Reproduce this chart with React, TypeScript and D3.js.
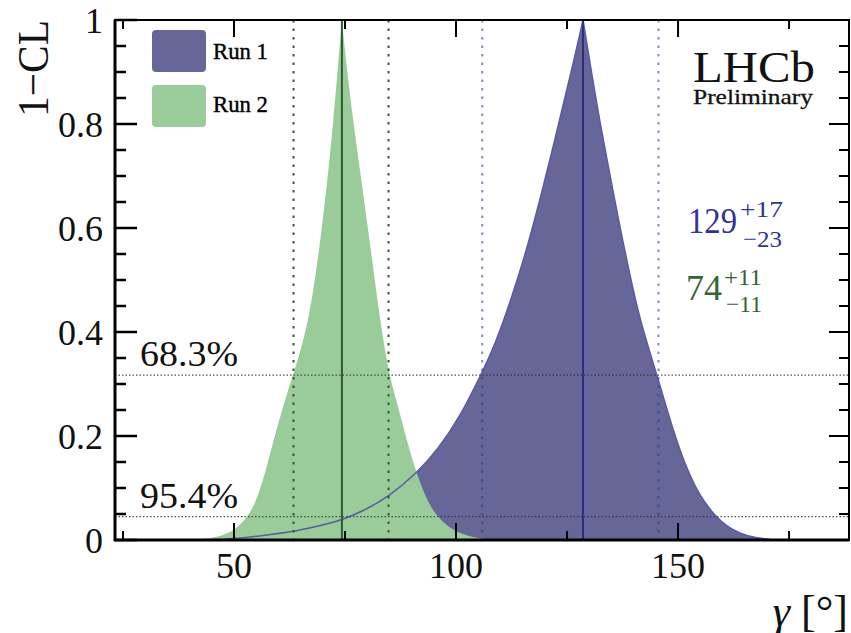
import React from 'react';
import * as d3 from 'd3';

// gamma [deg], 1-CL
const run1Points: [number, number][] = [
  [44, 0], [49.8, 0.002], [56, 0.008], [63.4, 0.016], [68, 0.025], [73.9, 0.037], [79, 0.055],
  [84.8, 0.083], [91.1, 0.128], [96, 0.175], [100.9, 0.237], [105.6, 0.317], [109, 0.38],
  [112.5, 0.465], [116, 0.56], [119.5, 0.675], [122, 0.76], [124.2, 0.84], [126.5, 0.92],
  [128.6, 1.0],
  [130.5, 0.9], [132.3, 0.808], [134.5, 0.71], [136.6, 0.615], [139, 0.515], [141.4, 0.423],
  [145.2, 0.319], [149.3, 0.199], [151.5, 0.148], [153.8, 0.103], [156, 0.072], [158.3, 0.047],
  [161, 0.026], [164, 0.012], [167.3, 0.004], [172, 0],
];
const run2Points: [number, number][] = [
  [37, 0], [41, 0.001], [44.6, 0.003], [47.5, 0.009], [50.2, 0.019], [53.2, 0.045], [55.1, 0.077],
  [57.0, 0.128], [58.9, 0.192], [61.0, 0.256], [63.3, 0.317], [65.2, 0.37], [66.9, 0.43],
  [68.4, 0.51], [69.8, 0.6], [71.0, 0.69], [72.2, 0.79], [73.3, 0.9], [74.3, 1.0],
  [75.5, 0.9], [76.8, 0.808], [78.4, 0.71], [79.9, 0.615], [81.4, 0.52], [82.9, 0.423],
  [84.9, 0.317], [87.0, 0.256], [88.9, 0.192], [91.1, 0.128], [93.4, 0.077], [95.7, 0.045],
  [99.0, 0.019], [103.9, 0.003], [110, 0],
];

const run1Best = 128.6;
const run1Interval = [105.9, 145.6];
const run2Best = 74.3;
const run2Interval = [63.4, 84.8];

const clLevels = [0.317, 0.045];
const clLabels = ['68.3%', '95.4%'];

const xMajorTicks = [50, 100, 150];
const xMinorTicks = [25, 75, 125, 175];
const yMajorTicks = [0, 0.2, 0.4, 0.6, 0.8, 1];
const yTickLabels = ['0', '0.2', '0.4', '0.6', '0.8', '1'];
const yMinorTicks = [0.05, 0.1, 0.15, 0.25, 0.3, 0.35, 0.45, 0.5, 0.55, 0.65, 0.7, 0.75, 0.85, 0.9, 0.95];

const legendNames = ['Run 1', 'Run 2'];

const W = 851, H = 633;
const L = 115, R = 849, T = 20, B = 540;

const BLUE = '#666699';
const GREEN = '#99cc99';
const FONT = '"Liberation Serif", "Times New Roman", serif';

export default function App() {
  const x = d3.scaleLinear().domain([23.2, 188.5]).range([L, R]);
  const y = d3.scaleLinear().domain([0, 1]).range([B, T]);

  const split = (data: [number, number][]) => {
    const i = d3.maxIndex(data, d => d[1]);
    return [data.slice(0, i + 1), data.slice(i)];
  };
  const areaPath = (data: [number, number][]) => {
    const p = d3.path();
    const a = d3.area<[number, number]>()
      .x(d => x(d[0])).y0(y(0)).y1(d => y(d[1]))
      .curve(d3.curveBasis).context(p as any);
    split(data).forEach(s => a(s));
    return p.toString();
  };
  const linePath = (data: [number, number][]) => {
    const p = d3.path();
    const l = d3.line<[number, number]>()
      .x(d => x(d[0])).y(d => y(d[1]))
      .curve(d3.curveBasis).context(p as any);
    split(data).forEach(s => l(s));
    return p.toString();
  };

  return (
    <svg width={W} height={H} style={{ position: 'absolute', left: 0, top: 0, background: '#fff' }}
      fontFamily={FONT}>
      <rect x={0} y={0} width={W} height={H} fill="#fff" />
      {/* fills */}
      <path d={areaPath(run1Points)} fill={BLUE} />
      <path d={areaPath(run2Points)} fill={GREEN} />
      <path d={linePath(run1Points)} fill="none" stroke="#5a5aa6" strokeWidth={1.5} />

      {/* CL level lines */}
      {clLevels.map((c, i) => (
        <line key={'cl' + i} x1={L} x2={R} y1={y(c)} y2={y(c)} stroke="#333" strokeWidth={1.2}
          strokeDasharray="1.5,2" opacity={0.85} />
      ))}
      {clLevels.map((c, i) => (
        <text key={'cll' + i} x={140} y={y(c) - 9} fontSize={36} textLength={98}
          lengthAdjust="spacingAndGlyphs" fill="#111">{clLabels[i]}</text>
      ))}

      {/* interval dotted lines */}
      {run2Interval.map((v, i) => (
        <line key={'g' + i} x1={x(v)} x2={x(v)} y1={T} y2={B} stroke="#2f5a2f" strokeWidth={2}
          strokeDasharray="2.5,6" />
      ))}
      {run1Interval.map((v, i) => (
        <line key={'b' + i} x1={x(v)} x2={x(v)} y1={T} y2={B} stroke="#333399" strokeOpacity={0.6}
          strokeWidth={2} strokeDasharray="2.5,6" />
      ))}
      {/* best fit lines */}
      <line x1={x(run2Best)} x2={x(run2Best)} y1={T} y2={B} stroke="#2f5a2f" strokeWidth={2} />
      <line x1={x(run1Best)} x2={x(run1Best)} y1={T} y2={B} stroke="#2e2e80" strokeWidth={2} />

      {/* frame */}
      <rect x={L} y={T} width={R - L} height={B - T} fill="none" stroke="#000" strokeWidth={2} />
      <line x1={L} x2={L} y1={T} y2={B + 1} stroke="#000" strokeWidth={3} />
      <line x1={L - 1} x2={R} y1={B} y2={B} stroke="#000" strokeWidth={3} />

      {/* y ticks */}
      {yMajorTicks.map((v, i) => (
        <g key={'ym' + i}>
          <line x1={L} x2={L + 22} y1={y(v)} y2={y(v)} stroke="#000" strokeWidth={2.5} />
          <line x1={R} x2={R - 20} y1={y(v)} y2={y(v)} stroke="#000" strokeWidth={2} />
          <text x={103} y={y(v)} dy="0.35em" textAnchor="end" fontSize={36} fill="#111">{yTickLabels[i]}</text>
        </g>
      ))}
      {yMinorTicks.map((v, i) => (
        <g key={'yn' + i}>
          <line x1={L} x2={L + 11} y1={y(v)} y2={y(v)} stroke="#000" strokeWidth={2.5} />
          <line x1={R} x2={R - 10} y1={y(v)} y2={y(v)} stroke="#000" strokeWidth={2} />
        </g>
      ))}
      {/* x ticks */}
      {xMajorTicks.map((v, i) => (
        <g key={'xm' + i}>
          <line x1={x(v)} x2={x(v)} y1={B} y2={B - 17} stroke="#000" strokeWidth={2} />
          <line x1={x(v)} x2={x(v)} y1={T} y2={T + 17} stroke="#000" strokeWidth={2} />
          <text x={x(v)} y={578} textAnchor="middle" fontSize={36} fill="#111">{v}</text>
        </g>
      ))}
      {xMinorTicks.map((v, i) => (
        <g key={'xn' + i}>
          <line x1={x(v)} x2={x(v)} y1={B} y2={B - 9} stroke="#000" strokeWidth={2} />
          <line x1={x(v)} x2={x(v)} y1={T} y2={T + 9} stroke="#000" strokeWidth={2} />
        </g>
      ))}

      {/* axis titles */}
      <text transform="translate(48,20) rotate(-90)" textAnchor="end" fontSize={44} textLength={97}
        lengthAdjust="spacingAndGlyphs" fill="#111">1−CL</text>
      <text x={848} y={626} textAnchor="end" fontSize={44} fill="#111">
        <tspan fontStyle="italic">γ</tspan> [°]
      </text>

      {/* legend */}
      {legendNames.map((n, i) => (
        <g key={'lg' + i}>
          <rect x={152} y={30 + i * 55} width={54} height={42} rx={4} fill={i === 0 ? BLUE : GREEN} />
          <text x={213} y={59 + i * 53} fontSize={24} textLength={55} lengthAdjust="spacingAndGlyphs"
            fill="#000" stroke="#000" strokeWidth={0.4}>{n}</text>
        </g>
      ))}

      {/* LHCb */}
      <text x={693} y={82} fontSize={45} textLength={122} lengthAdjust="spacingAndGlyphs" fill="#111">LHCb</text>
      <text x={693} y={104} fontSize={22} textLength={120} lengthAdjust="spacingAndGlyphs" fill="#111"
        stroke="#111" strokeWidth={0.3}>Preliminary</text>

      {/* results */}
      <g fill="#333399">
        <text x={688} y={233} fontSize={35} textLength={49} lengthAdjust="spacingAndGlyphs">129</text>
        <text x={740} y={217} fontSize={24} textLength={43} lengthAdjust="spacingAndGlyphs">+17</text>
        <text x={743} y={247} fontSize={24} textLength={39} lengthAdjust="spacingAndGlyphs">−23</text>
      </g>
      <g fill="#336633">
        <text x={686} y={300} fontSize={35} textLength={36} lengthAdjust="spacingAndGlyphs">74</text>
        <text x={724} y={285} fontSize={24} textLength={38} lengthAdjust="spacingAndGlyphs">+11</text>
        <text x={726} y={312} fontSize={24} textLength={36} lengthAdjust="spacingAndGlyphs">−11</text>
      </g>
    </svg>
  );
}
